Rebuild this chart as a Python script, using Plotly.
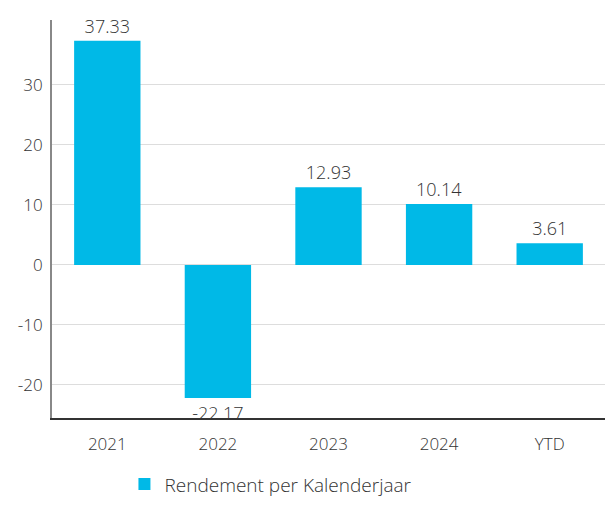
import plotly.graph_objects as go

categories = ["2021", "2022", "2023", "2024", "YTD"]
values = [37.33, -22.17, 12.93, 10.14, 3.61]
labels = ["37.33", "-22.17", "12.93", "10.14", "3.61"]
series_name = "Rendement per Kalenderjaar"
y_ticks = [-20, -10, 0, 10, 20, 30]
y_ticktext = ["-20", "-10", "0", "10", "20", "30"]

FAMILY = "Open Sans, Lato, sans-serif"
FONT = dict(family=FAMILY, size=17, color="#333333", weight=300)

fig = go.Figure()
fig.add_trace(go.Bar(
    x=categories, y=values, name=series_name,
    marker=dict(color="#00B9E7", line=dict(width=0)),
    text=labels, textposition="outside", cliponaxis=False,
    textfont=dict(family=FAMILY, size=18, color="#333333", weight=300),
    width=0.6,
))
fig.update_layout(
    width=605, height=506,
    margin=dict(l=52, r=0, t=20, b=88, autoexpand=False),
    paper_bgcolor="white", plot_bgcolor="white",
    font=FONT,
    showlegend=True,
    legend=dict(orientation="h", x=0.131, xanchor="left",
                yref="container", y=0.043, yanchor="middle",
                itemwidth=30,
                font=dict(family=FAMILY, size=19, color="#333333", weight=300)),
    bargap=0.4,
)
fig.update_yaxes(range=[-25.5, 40.8], tickvals=y_ticks, ticktext=y_ticktext,
                 showgrid=True, gridcolor="#DDDDDD", gridwidth=1,
                 zeroline=False, showline=True, linecolor="#888888", linewidth=2,
                 ticks="", ticklen=0, automargin=False, ticklabelstandoff=4)
fig.update_xaxes(showline=True, linecolor="#333333", linewidth=2, ticks="",
                 showgrid=False, automargin=False, ticklabelstandoff=10)
fig.write_html("out.html", config={"displayModeBar": False},
               post_script="document.body.style.margin='0';document.body.style.padding='0';")
